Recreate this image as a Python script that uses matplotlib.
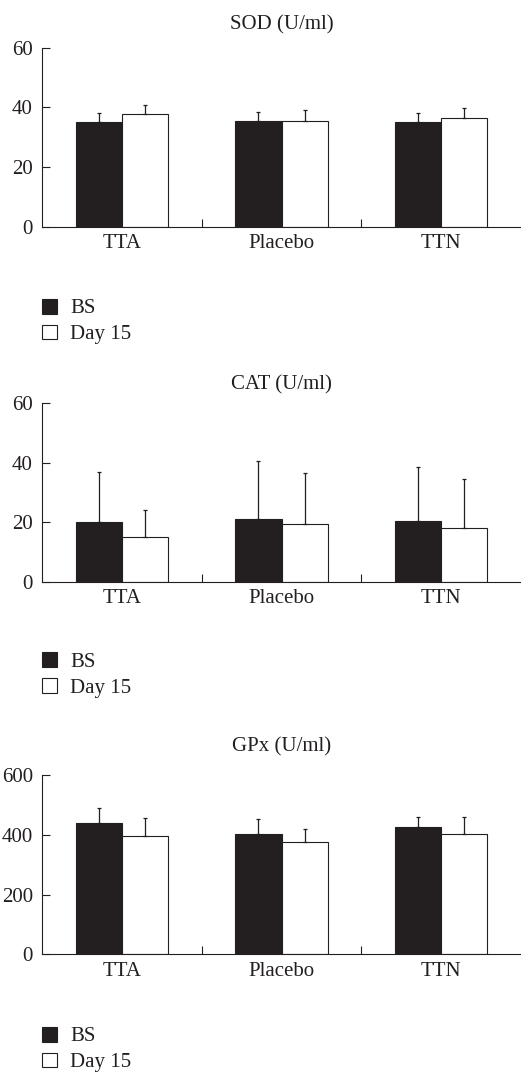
import matplotlib
matplotlib.use("Agg")
import matplotlib.pyplot as plt
import numpy as np

plt.rcParams['font.family'] = ['Liberation Serif', 'DejaVu Serif']
plt.rcParams['font.size'] = 15

categories = ["TTA", "Placebo", "TTN"]
series = ["BS", "Day 15"]

titles = ["SOD (U/ml)", "CAT (U/ml)", "GPx (U/ml)"]

sod_bs = [35.2, 35.3, 35.1]
sod_bs_err = [2.8, 3.2, 3.1]
sod_d15 = [37.8, 35.4, 36.4]
sod_d15_err = [3.1, 3.6, 3.3]

cat_bs = [20.0, 21.0, 20.3]
cat_bs_err = [16.9, 19.5, 18.3]
cat_d15 = [14.9, 19.3, 18.2]
cat_d15_err = [9.2, 17.4, 16.5]

gpx_bs = [438, 404, 425]
gpx_bs_err = [52, 48, 35]
gpx_d15 = [395, 375, 404]
gpx_d15_err = [61, 43, 55]

yticks_sod = [0, 20, 40, 60]
yticks_cat = [0, 20, 40, 60]
yticks_gpx = [0, 200, 400, 600]

panels = [
    (sod_bs, sod_bs_err, sod_d15, sod_d15_err, yticks_sod),
    (cat_bs, cat_bs_err, cat_d15, cat_d15_err, yticks_cat),
    (gpx_bs, gpx_bs_err, gpx_d15, gpx_d15_err, yticks_gpx),
]

W, H = 521, 1076
fig = plt.figure(figsize=(W / 100, H / 100), dpi=100)

dark = '#231f20'
# axes pixel geometry (top, bottom)
ax_px = [(47.7, 226.7), (403.3, 581.7), (775.0, 954.3)]
title_base = [29.0, 389.3, 751.0]
legend_center = [321.5, 675.0, 1049.5]
left_px, right_px = 42, 521

bw = 0.29
x = np.arange(len(categories))

for i, (bs, bse, d15, d15e, yt) in enumerate(panels):
    top, bot = ax_px[i]
    ax = fig.add_axes([left_px / W, 1 - bot / H, (right_px - left_px) / W, (bot - top) / H])
    b1 = ax.bar(x - bw / 2, bs, bw, color=dark, edgecolor=dark, linewidth=0.8, label=series[0], zorder=2)
    b2 = ax.bar(x + bw / 2, d15, bw, color='white', edgecolor=dark, linewidth=0.8, label=series[1], zorder=2)
    ax.errorbar(x - bw / 2, bs, yerr=[np.zeros(3), bse], fmt='none', ecolor=dark,
                elinewidth=0.9, capsize=1.6, capthick=0.9, zorder=3)
    ax.errorbar(x + bw / 2, d15, yerr=[np.zeros(3), d15e], fmt='none', ecolor=dark,
                elinewidth=0.9, capsize=1.6, capthick=0.9, zorder=3)
    ax.set_xlim(-0.5, 2.5)
    ax.set_ylim(yt[0], yt[-1])
    ax.set_yticks(yt)
    ax.set_xticks([0.5, 1.5])
    ax.set_xticklabels([])
    ax.set_xticks(x, minor=True)
    ax.set_xticklabels(categories, minor=True)
    ax.tick_params(axis='x', which='major', direction='in', length=5.8, width=0.8, color=dark)
    ax.tick_params(axis='x', which='minor', length=0, pad=5.5, labelcolor=dark)
    ax.tick_params(axis='y', direction='in', length=5.8, width=0.8, pad=6.5, color=dark, labelcolor=dark)
    for s in ['top', 'right']:
        ax.spines[s].set_visible(False)
    for s in ['left', 'bottom']:
        ax.spines[s].set_linewidth(0.8)
        ax.spines[s].set_color(dark)
    fig.text((left_px + right_px) / 2 / W, 1 - title_base[i] / H, titles[i],
             ha='center', va='baseline', color=dark)
    ax.legend(handles=[b1, b2], loc='center left',
              bbox_to_anchor=(left_px / W, 1 - legend_center[i] / H),
              bbox_transform=fig.transFigure, frameon=False, borderpad=0,
              borderaxespad=0, handlelength=0.72, handleheight=0.72,
              handletextpad=0.62, labelspacing=0.3, labelcolor=dark)

fig.savefig("out.png", dpi=100)
